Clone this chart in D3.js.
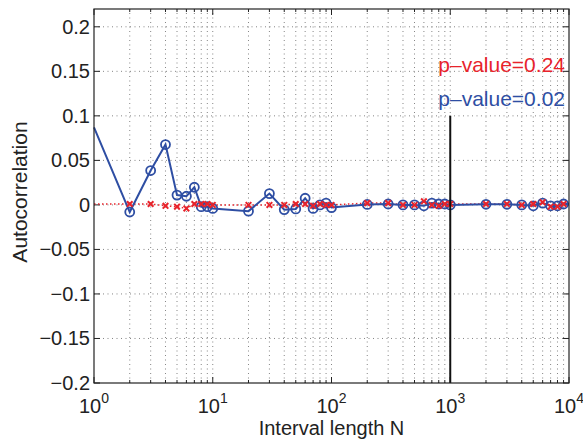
<!DOCTYPE html>
<html lang="en">
<head>
<meta charset="UTF-8">
<title>Autocorrelation</title>
<style>
  body { margin: 0; background: #fff; }
  svg text { font-family: "Liberation Sans", Arial, sans-serif; fill: #222; }
</style>
</head>
<body>
<svg id="chart" width="583" height="440"></svg>
<script src="https://cdn.jsdelivr.net/npm/d3@7"></script>
<script>
// interval lengths
const intervals = [1, 2, 3, 4, 5, 6, 7, 8, 9, 10,
    20, 30, 40, 50, 60, 70, 80, 90, 100,
    200, 300, 400, 500, 600, 700, 800, 900, 1000,
    2000, 3000, 4000, 5000, 6000, 7000, 8000, 9000, 10000];
// blue series (circles)
const blueValues = [0.087, -0.008, 0.0386, 0.0678, 0.011, 0.0097, 0.0198, -0.002, -0.002, -0.004,
    -0.007, 0.0127, -0.0053, -0.0045, 0.0075, -0.004, 0, 0.002, -0.003,
    0.0005, 0.001, 0, 0, -0.001, 0.002, 0.001, 0.001, 0,
    0.0007, 0.0007, 0, -0.001, 0.002, -0.001, -0.001, 0.001, 0.001];
// red series (crosses)
const redValues = [0.001, 0.001, 0.001, -0.001, -0.002, -0.004, 0.001, 0.001, 0.001, 0,
    0, 0, 0, 0.001, 0.001, -0.001, 0.001, 0, 0,
    0.002, 0.002, 0, 0, 0.004, 0, -0.001, 0.001, 0.001,
    0.001, 0.001, 0, 0.001, 0.003, -0.002, -0.002, 0.001, 0.001];
const yTicks = [-0.2, -0.15, -0.1, -0.05, 0, 0.05, 0.1, 0.15, 0.2];
const xTicks = [1, 10, 100, 1000, 10000];
const yTickLabels = ["\u22120.2", "\u22120.15", "\u22120.1", "\u22120.05", "0", "0.05", "0.1", "0.15", "0.2"];
const markerN = 1000, markerTop = 0.1;
const pRed = "p\u2013value=0.24", pBlue = "p\u2013value=0.02";

const blue = "#2e4ea3", red = "#e8232b";
const svg = d3.select("#chart");
const margin = {left: 94, right: 14, top: 9, bottom: 57};
const width = 583, height = 440;

const x = d3.scaleLog().domain([1, 10000]).range([margin.left, width - margin.right]);
const y = d3.scaleLinear().domain([-0.2, 0.22]).range([height - margin.bottom, margin.top]);

// minor ticks for the log axis
const minorX = [];
for (let d = 1; d < 10000; d *= 10) {
    for (let k = 2; k <= 9; k++) minorX.push(d * k);
}

const grid = svg.append("g")
    .attr("stroke", "#666")
    .attr("stroke-width", 0.8)
    .attr("stroke-dasharray", "1,3.5");
grid.selectAll(".gx").data(minorX.concat(xTicks.slice(1, -1))).enter().append("line")
    .attr("x1", d => x(d)).attr("x2", d => x(d))
    .attr("y1", y(-0.2)).attr("y2", y(0.22));
grid.selectAll(".gy").data(yTicks.slice(1)).enter().append("line")
    .attr("y1", d => y(d)).attr("y2", d => y(d))
    .attr("x1", x(1)).attr("x2", x(10000));

// ticks, inside the box on all sides
const ticks = svg.append("g").attr("stroke", "#222").attr("stroke-width", 1);
xTicks.forEach(d => {
    ticks.append("line").attr("x1", x(d)).attr("x2", x(d)).attr("y1", y(-0.2)).attr("y2", y(-0.2) - 6);
    ticks.append("line").attr("x1", x(d)).attr("x2", x(d)).attr("y1", y(0.22)).attr("y2", y(0.22) + 6);
});
minorX.forEach(d => {
    ticks.append("line").attr("x1", x(d)).attr("x2", x(d)).attr("y1", y(-0.2)).attr("y2", y(-0.2) - 3);
    ticks.append("line").attr("x1", x(d)).attr("x2", x(d)).attr("y1", y(0.22)).attr("y2", y(0.22) + 3);
});
yTicks.forEach(d => {
    ticks.append("line").attr("y1", y(d)).attr("y2", y(d)).attr("x1", x(1)).attr("x2", x(1) + 6);
    ticks.append("line").attr("y1", y(d)).attr("y2", y(d)).attr("x1", x(10000)).attr("x2", x(10000) - 6);
});

// red dotted series
const redPts = intervals.map((n, i) => [n, redValues[i]]);
const bluePts = intervals.map((n, i) => [n, blueValues[i]]);
const line = d3.line().x(d => x(d[0])).y(d => y(d[1]));

svg.append("path").datum(redPts)
    .attr("d", line).attr("fill", "none")
    .attr("stroke", red).attr("stroke-width", 1.5)
    .attr("stroke-dasharray", "1.5,2.5");

svg.append("path").datum(bluePts)
    .attr("d", line).attr("fill", "none")
    .attr("stroke", blue).attr("stroke-width", 2);

svg.selectAll(".circ").data(bluePts.slice(1, -1)).enter().append("circle")
    .attr("cx", d => x(d[0])).attr("cy", d => y(d[1])).attr("r", 4.5)
    .attr("fill", "none").attr("stroke", blue).attr("stroke-width", 1.8);

const cross = svg.append("g").attr("stroke", red).attr("stroke-width", 2);
redPts.slice(1, -1).forEach(d => {
    const cx = x(d[0]), cy = y(d[1]), s = 2.8;
    cross.append("line").attr("x1", cx - s).attr("x2", cx + s).attr("y1", cy - s).attr("y2", cy + s);
    cross.append("line").attr("x1", cx - s).attr("x2", cx + s).attr("y1", cy + s).attr("y2", cy - s);
});

// vertical marker at N = 1000
svg.append("line")
    .attr("x1", x(markerN)).attr("x2", x(markerN))
    .attr("y1", y(-0.2)).attr("y2", y(markerTop))
    .attr("stroke", "#111").attr("stroke-width", 2);

// box
svg.append("rect")
    .attr("x", x(1)).attr("y", y(0.22))
    .attr("width", x(10000) - x(1)).attr("height", y(-0.2) - y(0.22))
    .attr("fill", "none").attr("stroke", "#222").attr("stroke-width", 1.2);

// tick labels
svg.selectAll(".yl").data(yTicks).enter().append("text")
    .attr("x", x(1) - 4).attr("y", d => y(d) + 7)
    .attr("text-anchor", "end").attr("font-size", 20)
    .text((d, i) => yTickLabels[i]);

xTicks.forEach(d => {
    const t = svg.append("text")
        .attr("x", x(d)).attr("y", 413)
        .attr("text-anchor", "middle").attr("font-size", 20);
    t.append("tspan").text("10");
    t.append("tspan").attr("dy", -10).attr("font-size", 14).text(Math.round(Math.log10(d)));
});

svg.append("text")
    .attr("x", (x(1) + x(10000)) / 2).attr("y", 435)
    .attr("text-anchor", "middle").attr("font-size", 20)
    .text("Interval length N");

svg.append("text")
    .attr("transform", "translate(27,192) rotate(-90)")
    .attr("text-anchor", "middle").attr("font-size", 21)
    .text("Autocorrelation");

svg.append("text")
    .attr("x", 565).attr("y", 72)
    .attr("text-anchor", "end").attr("font-size", 21)
    .style("fill", red).text(pRed);
svg.append("text")
    .attr("x", 565).attr("y", 106)
    .attr("text-anchor", "end").attr("font-size", 21)
    .style("fill", blue).text(pBlue);
</script>
</body>
</html>
